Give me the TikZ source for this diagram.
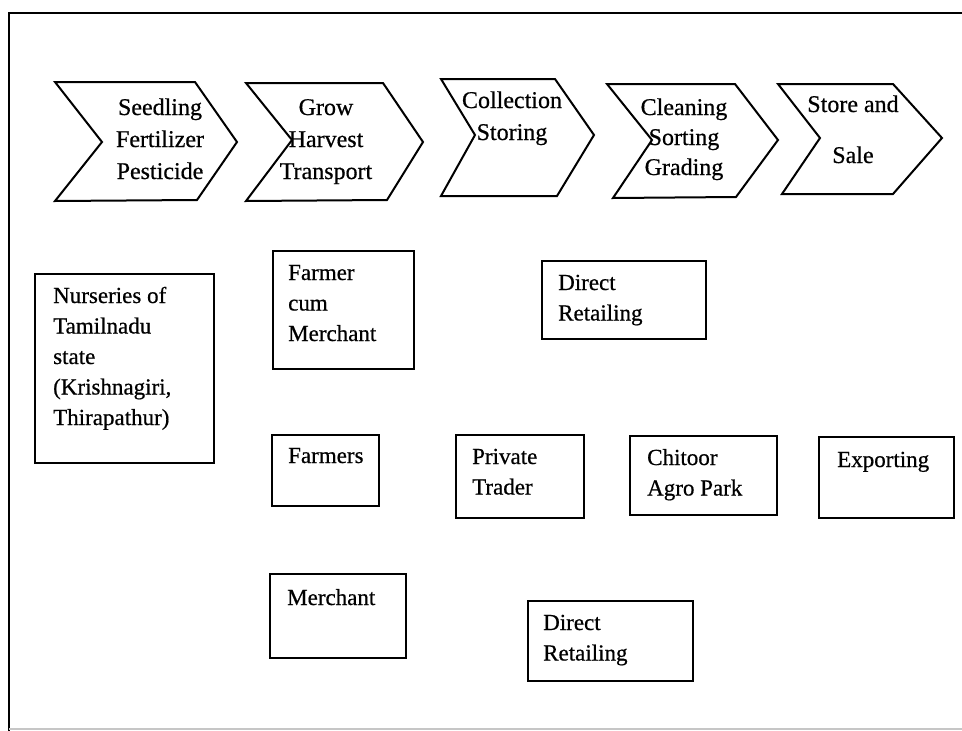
\documentclass[tikz,border=0pt]{standalone}
\usepackage{fontspec}
\setmainfont[FakeBold=0.6]{Liberation Serif}
\tikzset{
  chev/.style={draw=black, line width=2pt, line join=miter},
  boxnode/.style={draw=black, line width=2.2pt, rectangle, inner sep=0pt, anchor=north west},
  ctext/.style={inner sep=0pt, anchor=base, font=\fontsize{24}{32}\selectfont},
  btext/.style={inner sep=0pt, anchor=base west, font=\fontsize{23}{30.5}\selectfont},
  frameline/.style={draw=black, line width=2.4pt},
}
\newcommand\ctxt[1]{\parbox[t]{140pt}{\centering #1}}
\newcommand\btxt[1]{\parbox[t]{170pt}{\raggedright #1}}
\begin{document}
\begin{tikzpicture}[x=1pt,y=-1pt]
\useasboundingbox (0,0) rectangle (962,731);
% outer frame
\draw[frameline] (9,731) -- (9,13) -- (962,13);
\draw[gray!45, line width=1.5pt] (9,729) -- (962,729);

% chevrons
\draw[chev] (55,82) -- (195,82) -- (237,142) -- (197,200) -- (55,201) -- (102,142) -- cycle;
\draw[chev] (246,83) -- (383,83) -- (423,142) -- (387,200) -- (246,201) -- (292,140) -- cycle;
\draw[chev] (441,79) -- (555,79) -- (594,135) -- (557,196) -- (441,196) -- (475,135) -- cycle;
\draw[chev] (607,84) -- (735,84) -- (778,140) -- (736,197) -- (613,198) -- (652,140) -- cycle;
\draw[chev] (778,84) -- (893,84) -- (942,138) -- (893,194) -- (782,194) -- (820,138) -- cycle;

\node[ctext] (c1) at (160,115) {\ctxt{Seedling\\Fertilizer\\Pesticide}};
\node[ctext] (c2) at (326,115) {\ctxt{Grow\\Harvest\\Transport}};
\node[ctext] (c3) at (512,108) {\ctxt{Collection\\Storing}};
\node[ctext] (c4) at (684,115) {\ctxt{Cleaning\\[-2pt]Sorting\\[-2pt]Grading}};
\node[ctext] (c5) at (853,112) {\ctxt{Store and\\[19pt]Sale}};

% boxes
\node[boxnode, minimum width=179pt, minimum height=189pt] (nurs) at (34,273) {};
\node[btext] (nurst) at (53,303) {\btxt{Nurseries of\\Tamilnadu\\state\\(Krishnagiri,\\Thirapathur)}};

\node[boxnode, minimum width=141pt, minimum height=118pt] (fcm) at (272,250) {};
\node[btext] (fcmt) at (288,280) {\btxt{Farmer\\cum\\Merchant}};

\node[boxnode, minimum width=164pt, minimum height=78pt] (dr1) at (541,260) {};
\node[btext] (dr1t) at (558,290) {\btxt{Direct\\Retailing}};

\node[boxnode, minimum width=107pt, minimum height=71pt] (farm) at (271,434) {};
\node[btext] (farmt) at (288,463) {\btxt{Farmers}};

\node[boxnode, minimum width=128pt, minimum height=83pt] (pt) at (455,434) {};
\node[btext] (ptt) at (472,464) {\btxt{Private\\Trader}};

\node[boxnode, minimum width=147pt, minimum height=79pt] (cap) at (629,435) {};
\node[btext] (capt) at (647,465) {\btxt{Chitoor\\Agro Park}};

\node[boxnode, minimum width=135pt, minimum height=81pt] (exp) at (818,436) {};
\node[btext] (expt) at (837,467) {\btxt{Exporting}};

\node[boxnode, minimum width=136pt, minimum height=84pt] (mer) at (269,573) {};
\node[btext] (mert) at (287,605) {\btxt{Merchant}};

\node[boxnode, minimum width=165pt, minimum height=80pt] (dr2) at (527,600) {};
\node[btext] (dr2t) at (543,630) {\btxt{Direct\\Retailing}};
\end{tikzpicture}
\end{document}
